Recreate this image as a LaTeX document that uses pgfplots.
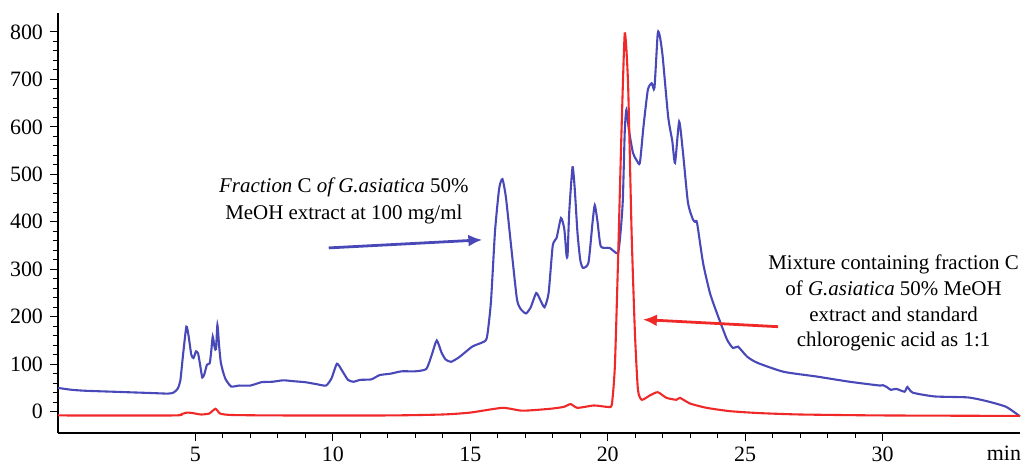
\documentclass[border=0pt]{standalone}
\usepackage{fontspec}
\setmainfont{Liberation Serif}
\usepackage{pgfplots}
\pgfplotsset{compat=1.18}
\usetikzlibrary{arrows.meta}
\definecolor{cblue}{RGB}{72,72,185}
\definecolor{cred}{RGB}{240,40,40}
\begin{document}
\begin{tikzpicture}
\begin{axis}[
  at={(0,0)}, anchor=south west,
  scale only axis, width=481bp, height=210bp,
  xmin=0, xmax=35, ymin=-45, ymax=840,
  axis lines=left, axis line style={-, black, line width=0.6pt},
  xtick={5,10,...,30}, ytick={0,100,...,800},
  minor x tick num=4, minor y tick num=4,
  tick align=outside, major tick length=4bp, minor tick length=2.5bp,
  tick style={black, line width=0.5pt},
  /pgf/number format/assume math mode=true,
  tick label style={font=\fontsize{11}{13}\selectfont},
  xticklabel style={yshift=0.5bp},
  clip=false,
]
\addplot[cblue, line width=1.05pt, smooth, tension=0.35] coordinates {
(0,50) (0.5,46) (1,44) (2,42) (3,40) (3.5,39) (4.0,38) (4.2,40) (4.35,48) (4.45,65) (4.55,120) (4.67,179) (4.75,160) (4.85,120) (4.93,113) (5.02,127) (5.1,122) (5.18,95) (5.25,72) (5.32,78) (5.42,99) (5.52,102) (5.58,130) (5.63,158) (5.7,135) (5.75,132) (5.8,183) (5.86,140) (5.92,105) (6.0,85) (6.1,68) (6.3,53) (6.6,55) (7.0,55) (7.4,62) (7.8,63) (8.2,66) (8.6,64) (9.0,62) (9.4,58) (9.75,55) (9.95,70) (10.15,101) (10.35,85) (10.55,67) (10.75,63) (11.0,67) (11.4,68) (11.7,77) (12.1,80) (12.5,85) (13.0,85) (13.4,90) (13.6,120) (13.78,150) (13.95,125) (14.1,110) (14.3,105) (14.6,115) (15.07,137) (15.4,145) (15.6,155) (15.75,230) (15.9,380) (16.05,470) (16.17,490) (16.3,450) (16.5,341) (16.7,236) (16.85,215) (17.03,207) (17.2,220) (17.4,250) (17.55,235) (17.7,220) (17.85,250) (18.0,350) (18.14,366) (18.3,408) (18.42,385) (18.5,330) (18.54,330) (18.6,420) (18.72,515) (18.8,470) (18.9,377) (19.0,320) (19.1,303) (19.3,314) (19.45,400) (19.53,435) (19.63,400) (19.75,348) (20.07,345) (20.37,334) (20.47,380) (20.55,446) (20.62,590) (20.68,636) (20.78,590) (20.92,545) (21.05,530) (21.17,524) (21.3,600) (21.46,678) (21.6,692) (21.7,682) (21.82,797) (21.9,790) (22.0,748) (22.2,621) (22.35,570) (22.45,524) (22.6,611) (22.74,545) (22.92,440) (23.1,405) (23.18,400) (23.25,398) (23.47,313) (23.72,250) (23.97,208) (24.34,152) (24.56,134) (24.74,137) (25.07,116) (25.44,103) (26.4,84) (27.6,74) (28.8,63) (29.9,55) (30.0,56) (30.15,52) (30.3,46) (30.5,48) (30.8,42) (30.9,52) (31.1,40) (31.9,32) (33.1,30) (33.8,22) (34.5,10) (35.0,-10)
};
\addplot[cred, line width=1.05pt, smooth, tension=0.35] coordinates {
(0,-8) (4.2,-8) (4.5,-5) (4.7,-2) (4.9,-3) (5.2,-6) (5.5,-4) (5.73,6) (5.9,-4) (6.3,-7) (8,-8) (12,-8) (14,-6) (15,-2) (16.17,8) (16.9,2) (17.9,6) (18.4,10) (18.65,16) (18.9,8) (19.5,13) (20.0,10) (20.15,15) (20.26,95) (20.37,306) (20.5,587) (20.62,797) (20.74,692) (20.87,376) (20.99,166) (21.1,46) (21.24,25) (21.53,34) (21.82,41) (22.14,29) (22.5,25) (22.63,29) (23.0,17) (23.6,8) (24.45,1) (25.5,-3) (27,-6) (30,-8) (35,-9)
};
\draw[cblue, line width=1.4pt, -{Latex[length=7bp,width=6bp]}] (axis cs:9.85,345) -- (axis cs:15.44,362);
\draw[cred, line width=1.4pt, -{Latex[length=7bp,width=6bp]}] (axis cs:26.2,179) -- (axis cs:21.28,194);
\node[align=center, font=\fontsize{10.5}{13.5}\selectfont] at (axis cs:10.4,444)
  {\textit{Fraction} C \textit{of G.asiatica} 50\%\\MeOH extract at 100 mg/ml};
\node[align=center, font=\fontsize{10.5}{13}\selectfont] at (axis cs:30.4,229)
  {Mixture containing fraction C\\of \textit{G.asiatica} 50\% MeOH\\extract and standard\\chlorogenic acid as 1:1};
\node[font=\fontsize{11}{13}\selectfont, anchor=north east] at (axis cs:35,-45) [yshift=-3bp, xshift=4bp] {min};
\end{axis}
\pgfresetboundingbox
\path (-29bp,-15.5bp) rectangle (486bp,216.5bp);
\end{tikzpicture}
\end{document}
